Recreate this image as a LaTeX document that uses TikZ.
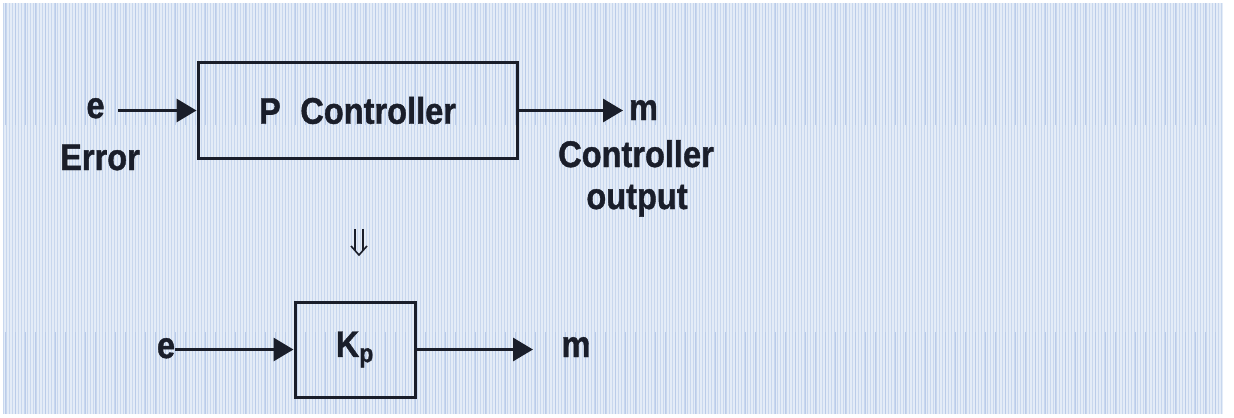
\documentclass[tikz,border=0pt]{standalone}
\usepackage{fontspec}
\setmainfont{Liberation Sans}[BoldFeatures={FakeBold=1.2}]
\usetikzlibrary{arrows.meta}
\definecolor{ink}{RGB}{26,30,42}
\definecolor{bgblue}{RGB}{228,236,247}
\definecolor{gridblue}{RGB}{200,215,238}
\definecolor{gridblue2}{RGB}{186,204,234}
\newcommand\lbl[1]{\scalebox{0.88}[1]{#1}}
\begin{document}
\begin{tikzpicture}[x=0.5pt,y=-0.5pt,
  lab/.style={font=\fontsize{18.5}{20}\selectfont\bfseries, text=ink, inner sep=0pt, anchor=base},
  blk/.style={draw=ink, line width=1.5pt, inner sep=0pt, font=\fontsize{18.5}{20}\selectfont\bfseries, text=ink},
  arr/.style={draw=ink, line width=1.5pt, -{Triangle[length=10pt,width=11.5pt]}},
  implies/.style={draw=ink, line width=0.8pt}]
\useasboundingbox (0,0) rectangle (1234,417);
\fill[white] (0,0) rectangle (1234,417);
\fill[bgblue] (3,3) rectangle (1223,414);
\draw[gridblue, line width=0.3pt, step=3] (3,3) grid (1223,414);
\foreach \x in {5,15,...,1215} {
  \draw[gridblue2, line width=0.3pt] (\x,3) -- (\x,125) (\x,332) -- (\x,414);
}
% top block
\node[blk, minimum width=159.5pt, minimum height=47.5pt] (pc) at (357.5,110.5) {\lbl{P\hspace{0.6em}Controller}};
\node[lab] (e1) at (95.5,118) {\lbl{e}};
\node[lab] (err) at (100,170) {\lbl{Error}};
\node[lab] (m1) at (643.5,120) {\lbl{m}};
\node[lab] (co) at (636,167) {\lbl{Controller}};
\node[lab] (out) at (637,209) {\lbl{output}};
\coordinate (t1) at (118,110.5);
\coordinate (h1) at (623,110.5);
\draw[arr] (t1) -- (pc.west);
\draw[arr] (pc.east) -- (h1);
% implies (double down arrow)
\draw[implies] (355,229) -- (355,250) (363,229) -- (363,250);
\draw[implies, line join=miter] (351,246) -- (359,255) -- (367,246);
% bottom block
\node[blk, minimum width=60pt, minimum height=47.5pt] (kp) at (355,349.5) {\lbl{K\textsubscript{p}}};
\node[lab] (e2) at (166,358) {\lbl{e}};
\node[lab] (m2) at (576,357) {\lbl{m}};
\coordinate (h2) at (533,349.5);
\draw[arr] (e2.east |- kp.west) -- (kp.west);
\draw[arr] (kp.east) -- (h2);
\end{tikzpicture}
\end{document}
